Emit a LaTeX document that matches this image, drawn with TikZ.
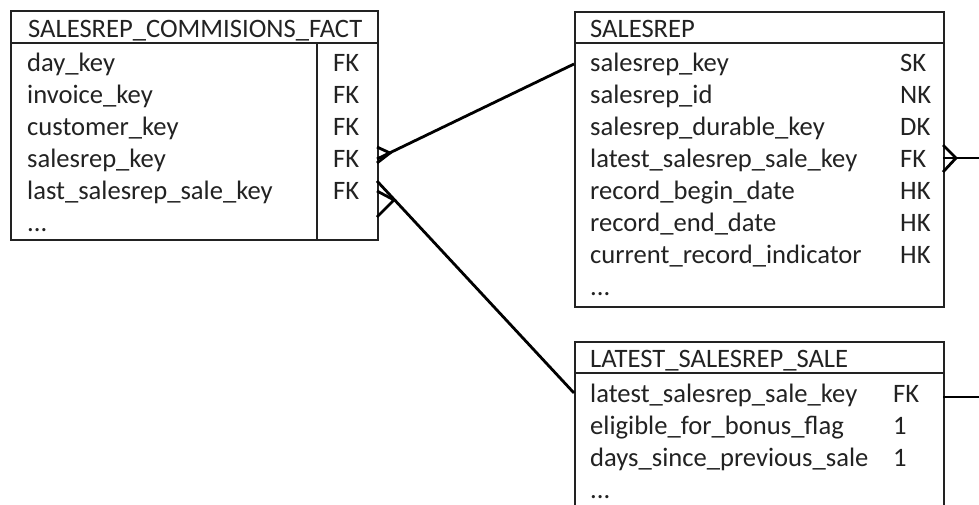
\documentclass[tikz,border=0pt]{standalone}
\usepackage{fontspec}
\setmainfont{Carlito}
\definecolor{ink}{HTML}{222222}
\tikzset{
  tablebox/.style={draw=ink,line width=1.6pt,anchor=north west,inner sep=0pt},
  tableline/.style={draw=ink,line width=1.6pt},
  field/.style={anchor=base west,inner sep=0pt,text=ink},
  link/.style={line width=2.8pt}
}
\begin{document}
\begin{tikzpicture}[x=1pt,y=-1pt,font=\fontsize{26.6}{32}\selectfont]
\useasboundingbox (0,0) rectangle (979,504);
\clip (0,0) rectangle (979,504);
% fact table
\node[tablebox,minimum width=367pt,minimum height=229pt] (fact) at (10,10) {};
\draw[tableline] (10,43) -- (377,43);
\draw[tableline] (317,43) -- (317,239);
\node[field] (fact-title) at (28,37) {SALESREP\_COMMISIONS\_FACT};
\foreach \y/\n/\k [count=\i] in {71/day\_key/FK,103/invoice\_key/FK,135/customer\_key/FK,167/salesrep\_key/FK,199/last\_salesrep\_sale\_key/FK}
{
  \node[field] (fact-\i) at (27,\y) {\n};
  \node[field] (fact-k\i) at (333,\y) {\k};
}
\node[field] (fact-more) at (27,231) {...};
% salesrep dimension
\node[tablebox,minimum width=369pt,minimum height=295pt] (sr) at (574,11) {};
\draw[tableline] (574,43) -- (943,43);
\node[field] (sr-title) at (590,37) {SALESREP};
\foreach \y/\n/\k [count=\i] in {71/salesrep\_key/SK,103/salesrep\_id/NK,135/salesrep\_durable\_key/DK,167/latest\_salesrep\_sale\_key/FK,199/record\_begin\_date/HK,231/record\_end\_date/HK,263/current\_record\_indicator/HK}
{
  \node[field] (sr-\i) at (590,\y) {\n};
  \node[field] (sr-k\i) at (900,\y) {\k};
}
\node[field] (sr-more) at (590,295) {...};
% latest sale
\node[tablebox,minimum width=369pt,minimum height=220pt] (ls) at (574,341) {};
\draw[tableline] (574,373) -- (943,373);
\node[field] (ls-title) at (590,367) {LATEST\_SALESREP\_SALE};
\foreach \y/\n/\k [count=\i] in {402/latest\_salesrep\_sale\_key/FK,434/eligible\_for\_bonus\_flag/1,466/days\_since\_previous\_sale/1}
{
  \node[field] (ls-\i) at (590,\y) {\n};
  \node[field] (ls-k\i) at (893,\y) {\k};
}
\node[field] (ls-more) at (590,498) {...};
% connectors
\coordinate (fact-sr) at (377,159);
\coordinate (sr-in) at (574,64);
\coordinate (fact-ls) at (377,181);
\coordinate (ls-in) at (574,393);
\coordinate (sr-out) at (943,158);
\coordinate (sr-end) at (979,158);
\coordinate (ls-out) at (943,397);
\coordinate (ls-end) at (979,397);
\draw[link] (sr-in) -- (fact-sr);
\draw[link] ([shift={(0,-12)}]fact-sr) -- ([shift={(13,-6)}]fact-sr) -- ([shift={(0,4)}]fact-sr);
\draw[link] (ls-in) -- (fact-ls);
\draw[link] ([shift={(0,10)}]fact-ls) -- ([shift={(17,19)}]fact-ls) -- ([shift={(0,36)}]fact-ls);
\draw[link] (sr-out) -- (sr-end);
\draw[link] ([shift={(0,-13)}]sr-out) -- ([shift={(13,0)}]sr-out) -- ([shift={(0,14)}]sr-out);
\draw[link] (ls-out) -- (ls-end);
\end{tikzpicture}
\end{document}
